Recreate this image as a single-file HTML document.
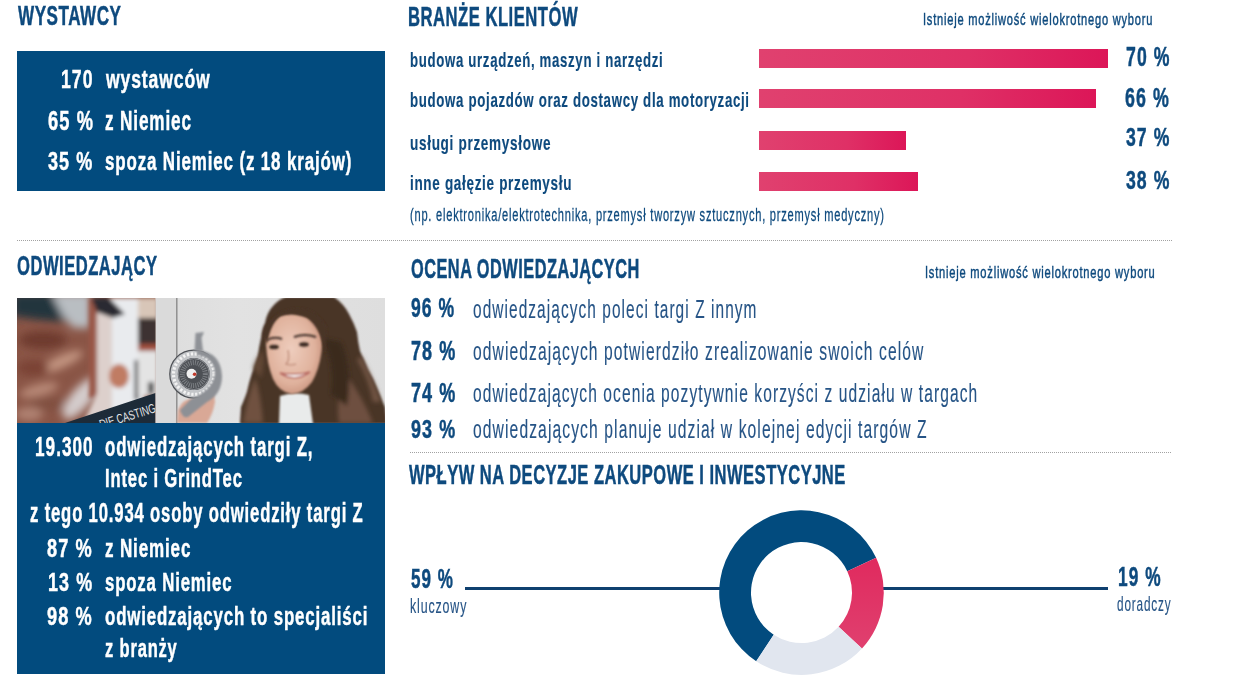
<!DOCTYPE html>
<html><head><meta charset="utf-8">
<style>
html,body{margin:0;padding:0;background:#fff;}
body{width:1240px;height:698px;position:relative;overflow:hidden;font-family:"Liberation Sans",sans-serif;}
.t{position:absolute;white-space:nowrap;transform-origin:0 0;}
.box{position:absolute;background:#024b7e;}
.dots{position:absolute;height:1px;background-image:linear-gradient(to right,#a2a2a2 50%,transparent 50%);background-size:2px 1px;}
.bar{position:absolute;background:linear-gradient(to right,#e0416f,#df3066 60%,#dc1658);}
.hl{position:absolute;height:2.5px;background:#0f406f;}
</style></head><body>
<div class="box" style="left:17px;top:51px;width:368px;height:140px"></div>
<div class="box" style="left:17px;top:423px;width:368px;height:251px"></div>
<div class="dots" style="left:17px;top:240px;width:1156px"></div>
<div class="dots" style="left:410px;top:452px;width:762px"></div>
<div class="bar" style="left:759px;top:49px;width:349px;height:18.5px"></div>
<div class="bar" style="left:759px;top:89px;width:337px;height:18.5px"></div>
<div class="bar" style="left:759px;top:130.5px;width:147px;height:19px"></div>
<div class="bar" style="left:759px;top:172px;width:159px;height:19px"></div>
<div class="hl" style="left:465px;top:587px;width:260px"></div>
<div class="hl" style="left:878px;top:587px;width:230px"></div>
<svg style="position:absolute;left:0;top:0" width="1240" height="698" viewBox="0 0 1240 698">
<defs><linearGradient id="pk" x1="0" y1="0" x2="0" y2="1"><stop offset="0" stop-color="#e02a5e"/><stop offset="1" stop-color="#e0406f"/></linearGradient></defs>
<path fill="#024b7e" d="M756.20 661.31A82.3 82.3 0 1 1 876.09 557.82L847.27 571.26A50.5 50.5 0 1 0 773.70 634.76Z"/>
<path fill="url(#pk)" d="M876.09 557.82A82.3 82.3 0 0 1 861.98 648.41L838.61 626.85A50.5 50.5 0 0 0 847.27 571.26Z"/>
<path fill="#e1e6ef" d="M861.98 648.41A82.3 82.3 0 0 1 756.20 661.31L773.70 634.76A50.5 50.5 0 0 0 838.61 626.85Z"/>
</svg>
<!--PHOTO-->
<svg style="position:absolute;left:17px;top:298px" width="368" height="125" viewBox="0 0 368 125">
<defs>
<clipPath id="pc"><rect x="0" y="0" width="368" height="125"/></clipPath>
<clipPath id="pp"><rect x="0" y="0" width="138.5" height="125"/></clipPath>
<filter id="b1" x="-20%" y="-20%" width="140%" height="140%"><feGaussianBlur stdDeviation="1"/></filter>
<filter id="b2" x="-20%" y="-20%" width="140%" height="140%"><feGaussianBlur stdDeviation="2"/></filter>
<filter id="b3" x="-30%" y="-30%" width="160%" height="160%"><feGaussianBlur stdDeviation="4"/></filter>
<linearGradient id="wall" x1="0" y1="0" x2="1" y2="0"><stop offset="0.35" stop-color="#dcdcdc"/><stop offset="0.6" stop-color="#e2e2e2"/><stop offset="1" stop-color="#dedede"/></linearGradient>
<radialGradient id="skin" cx="0.45" cy="0.45" r="0.6"><stop offset="0" stop-color="#eecdbd"/><stop offset="0.7" stop-color="#e0b29d"/><stop offset="1" stop-color="#c8927c"/></radialGradient>
</defs>
<g clip-path="url(#pc)">
<rect x="0" y="0" width="368" height="125" fill="url(#wall)"/>
<rect x="138.5" y="0" width="21" height="125" fill="#dadada"/>
<rect x="159.1" y="0" width="1.4" height="125" fill="#8a8a8a"/>
<!-- poster -->
<g clip-path="url(#pp)">
<rect x="0" y="0" width="138.5" height="125" fill="#8a5546"/>
<g filter="url(#b3)">
<path d="M-5 -5 L50 -5 L52 24 L24 22 L-5 18 Z" fill="#23343e"/>
<path d="M34 -5 L74 -5 L74 30 L56 30 L46 18 Z" fill="#b9bec2"/>
<ellipse cx="26" cy="42" rx="24" ry="9" fill="#6e3a2e"/>
<ellipse cx="44" cy="64" rx="24" ry="6" fill="#c49682" transform="rotate(-25 44 64)"/>
<ellipse cx="16" cy="70" rx="16" ry="8" fill="#7a4334"/>
<ellipse cx="22" cy="92" rx="20" ry="6" fill="#b98a78" transform="rotate(-15 22 92)"/>
<ellipse cx="30" cy="106" rx="18" ry="6" fill="#80503f"/>
<ellipse cx="12" cy="116" rx="14" ry="7" fill="#b08272"/>
<ellipse cx="64" cy="100" rx="26" ry="10" fill="#d4cccc" transform="rotate(-50 64 100)"/>
</g>
<g filter="url(#b2)">
<rect x="72" y="0" width="8" height="100" fill="#9a5646"/>
<path d="M80 0 L96 0 L96 125 L66 125 L80 95 Z" fill="#ddd0cc"/>
<rect x="95" y="0" width="32" height="125" fill="#e9ebee"/>
<ellipse cx="102" cy="78" rx="10" ry="12" fill="#c07c64"/>
<rect x="117.5" y="62" width="4" height="40" fill="#505052"/>
<rect x="121" y="0" width="20" height="20" fill="#d8c6b8"/>
<rect x="121" y="20" width="20" height="28" fill="#3e3331"/>
<rect x="121" y="46" width="20" height="7" fill="#a0503e"/>
<rect x="121" y="53" width="20" height="45" fill="#e4e4e4"/>
<rect x="131" y="84" width="6" height="12" fill="#4a4a4a"/>
<path d="M74 0 L92 0 L108 16 L96 20 L80 14 Z" fill="#2c2a30"/>
</g>
<path d="M48 125 L138.5 95 L138.5 125 Z" fill="#1d2b38"/>
<g transform="translate(84 131) rotate(-17) scale(0.7 1)"><text x="0" y="0" font-family="Liberation Sans" font-size="13" fill="#e4e6e8">DIE CASTING</text></g>
</g>
<!-- turbine -->
<path d="M160 125 L161 112 Q166 100 176 101 L189 93 Q198 92 198 104 Q196 116 190 125 Z" fill="#d9a896" filter="url(#b1)"/>
<circle cx="176.8" cy="76.1" r="24" fill="#c4c6c9" stroke="#505358" stroke-width="1.3"/>
<circle cx="176.8" cy="76.1" r="20.3" fill="none" stroke="#f2f2f2" stroke-width="3.2" stroke-dasharray="2.3 1.7"/>
<circle cx="176.8" cy="76.1" r="16" fill="#4d5055"/>
<circle cx="176.8" cy="76.1" r="11.5" fill="none" stroke="#7d8085" stroke-width="5" stroke-dasharray="1 1.2"/>
<circle cx="176.8" cy="76.1" r="15.5" fill="none" stroke="#8a8d92" stroke-width="1"/>
<circle cx="174.5" cy="75.8" r="5" fill="#f0f0f0"/>
<circle cx="177.6" cy="76.3" r="1.8" fill="#c0392b"/>
<path d="M180 52 Q204 54 205 78 Q205 96 190 104 L171 119 Q166 121 163 112 L174 101 Q196 92 198 76 Q198 60 180 57 Z" fill="#8d9095" filter="url(#b1)"/>
<path d="M177.5 53 L178.5 35 L187 34 L184.5 40 L186 53 Z" fill="#8f9297" filter="url(#b1)"/>
<!-- woman -->
<path d="M223 126 L224 109 Q228 100 230 94 Q232 84 235 75 Q239 66 241 58 Q242 48 244 40 Q245 30 248 25 Q250 14 256 8 Q262 1 269 -1 L317 -1 Q327 6 332 16 Q337 25 340 34 Q341 44 343 53 Q347 62 351 72 Q356 80 360 90 Q364 100 368 109 L370 126 Z" fill="#4a3427" filter="url(#b1)"/>
<g filter="url(#b2)">
<path d="M226 125 Q230 100 238 80 Q244 96 246 125 Z" fill="#6f5140"/>
<path d="M236 70 Q240 58 246 52 Q248 66 244 80 Z" fill="#624636"/>
<path d="M322 125 Q318 100 330 78 Q346 100 356 125 Z" fill="#6e5040"/>
<path d="M340 62 Q352 82 356 104 L364 104 Q356 80 344 58 Z" fill="#705242"/>
<path d="M304 40 Q318 62 314 96 L330 108 Q336 70 324 44 Z" fill="#3a291f"/>
</g>
<path d="M262 126 L263 98 Q277 93 292 97 L296 126 Z" fill="#e9ebeb" filter="url(#b1)"/>
<path d="M274.5 15 Q296 16 303 32 Q306 44 304.5 54 Q302 72 295 84 Q286 96 274.5 96 Q262 94 256 81 Q250 66 249 46 Q250 26 262 18 Q268 15 274.5 15 Z" fill="url(#skin)" filter="url(#b1)"/>
<path d="M246 36 Q254 12 280 10 Q300 10 310 30 L308 56 Q304 30 290 20 Q276 14 264 18 Q254 24 250 46 Z" fill="#4a3427" filter="url(#b1)"/>
<g filter="url(#b1)">
<path d="M250 42 Q257 38 265 41" stroke="#3f2d25" stroke-width="2" fill="none"/>
<path d="M277 39 Q288 35 299 39" stroke="#3f2d25" stroke-width="2" fill="none"/>
<ellipse cx="257" cy="49" rx="4.8" ry="2.2" fill="#3a2a24"/>
<ellipse cx="287" cy="46.5" rx="4.8" ry="2.2" fill="#3a2a24"/>
<path d="M271 52 Q273 63 269 66 Q273 68 279 66" stroke="#b88470" stroke-width="1.2" fill="none"/>
<path d="M263 75 Q278 85 293 74 Q279 78 263 75 Z" fill="#fff" stroke="#b86a62" stroke-width="1.6"/>
</g>
</g>
</svg>

<div class="t" style="left:17.55px;top:1.34px;font-size:28.27px;line-height:28.27px;font-weight:bold;color:#0e4a7e;letter-spacing:0.848px;-webkit-text-stroke:0.5px #0e4a7e;transform:scaleX(0.6049)">WYSTAWCY</div>
<div class="t" style="left:408.05px;top:2.62px;font-size:27.69px;line-height:27.69px;font-weight:bold;color:#0e4a7e;letter-spacing:0.831px;-webkit-text-stroke:0.5px #0e4a7e;transform:scaleX(0.6007)">BRANŻE KLIENTÓW</div>
<div class="t" style="left:17.19px;top:252.02px;font-size:27.83px;line-height:27.83px;font-weight:bold;color:#0e4a7e;letter-spacing:0.835px;-webkit-text-stroke:0.5px #0e4a7e;transform:scaleX(0.5962)">ODWIEDZAJĄCY</div>
<div class="t" style="left:411.20px;top:255.11px;font-size:27.40px;line-height:27.40px;font-weight:bold;color:#0e4a7e;letter-spacing:0.822px;-webkit-text-stroke:0.5px #0e4a7e;transform:scaleX(0.5963)">OCENA ODWIEDZAJĄCYCH</div>
<div class="t" style="left:408.55px;top:461.26px;font-size:27.83px;line-height:27.83px;font-weight:bold;color:#0e4a7e;letter-spacing:0.835px;-webkit-text-stroke:0.5px #0e4a7e;transform:scaleX(0.5936)">WPŁYW NA DECYZJE ZAKUPOWE I INWESTYCYJNE</div>
<div class="t" style="left:60.91px;top:65.75px;font-size:26.67px;line-height:26.67px;font-weight:bold;color:#ffffff;letter-spacing:1.600px;-webkit-text-stroke:0.5px #ffffff;transform:scaleX(0.6596)">170</div>
<div class="t" style="left:105.54px;top:65.75px;font-size:26.67px;line-height:26.67px;font-weight:bold;color:#ffffff;letter-spacing:1.334px;-webkit-text-stroke:0.5px #ffffff;transform:scaleX(0.6591)">wystawców</div>
<div class="t" style="left:47.62px;top:106.61px;font-size:27.40px;line-height:27.40px;font-weight:bold;color:#ffffff;letter-spacing:1.644px;-webkit-text-stroke:0.5px #ffffff;transform:scaleX(0.6673)">65 %</div>
<div class="t" style="left:104.67px;top:106.61px;font-size:27.40px;line-height:27.40px;font-weight:bold;color:#ffffff;letter-spacing:1.370px;-webkit-text-stroke:0.5px #ffffff;transform:scaleX(0.6263)">z Niemiec</div>
<div class="t" style="left:47.81px;top:148.24px;font-size:26.67px;line-height:26.67px;font-weight:bold;color:#ffffff;letter-spacing:1.600px;-webkit-text-stroke:0.5px #ffffff;transform:scaleX(0.6764)">35 %</div>
<div class="t" style="left:104.85px;top:148.25px;font-size:26.67px;line-height:26.67px;font-weight:bold;color:#ffffff;letter-spacing:1.334px;-webkit-text-stroke:0.5px #ffffff;transform:scaleX(0.6362)">spoza Niemiec (z 18 krajów)</div>
<div class="t" style="left:409.76px;top:49.78px;font-size:20.05px;line-height:20.05px;font-weight:bold;color:#0e4a7e;letter-spacing:1.002px;-webkit-text-stroke:0.15px #0e4a7e;transform:scaleX(0.6606)">budowa urządzeń, maszyn i narzędzi</div>
<div class="t" style="left:409.75px;top:91.48px;font-size:19.91px;line-height:19.91px;font-weight:bold;color:#0e4a7e;letter-spacing:0.995px;-webkit-text-stroke:0.15px #0e4a7e;transform:scaleX(0.6670)">budowa pojazdów oraz dostawcy dla motoryzacji</div>
<div class="t" style="left:410.24px;top:132.82px;font-size:20.05px;line-height:20.05px;font-weight:bold;color:#0e4a7e;letter-spacing:1.002px;-webkit-text-stroke:0.15px #0e4a7e;transform:scaleX(0.6774)">usługi przemysłowe</div>
<div class="t" style="left:410.24px;top:173.06px;font-size:20.05px;line-height:20.05px;font-weight:bold;color:#0e4a7e;letter-spacing:1.002px;-webkit-text-stroke:0.15px #0e4a7e;transform:scaleX(0.6748)">inne gałęzie przemysłu</div>
<div class="t" style="left:410.02px;top:205.81px;font-size:18.42px;line-height:18.42px;font-weight:normal;color:#0e4a7e;letter-spacing:1.290px;-webkit-text-stroke:0.3px #0e4a7e;transform:scaleX(0.6019)">(np. elektronika/elektrotechnika, przemysł tworzyw sztucznych, przemysł medyczny)</div>
<div class="t" style="left:1125.76px;top:43.34px;font-size:27.11px;line-height:27.11px;font-weight:bold;color:#0e4a7e;letter-spacing:1.626px;-webkit-text-stroke:0.5px #0e4a7e;transform:scaleX(0.6513)">70 %</div>
<div class="t" style="left:1125.43px;top:84.14px;font-size:27.69px;line-height:27.69px;font-weight:bold;color:#0e4a7e;letter-spacing:1.661px;-webkit-text-stroke:0.5px #0e4a7e;transform:scaleX(0.6440)">66 %</div>
<div class="t" style="left:1125.81px;top:124.45px;font-size:26.38px;line-height:26.38px;font-weight:bold;color:#0e4a7e;letter-spacing:1.583px;-webkit-text-stroke:0.5px #0e4a7e;transform:scaleX(0.6683)">37 %</div>
<div class="t" style="left:1125.81px;top:167.09px;font-size:26.53px;line-height:26.53px;font-weight:bold;color:#0e4a7e;letter-spacing:1.592px;-webkit-text-stroke:0.5px #0e4a7e;transform:scaleX(0.6646)">38 %</div>
<div class="t" style="left:922.85px;top:12.34px;font-size:16.63px;line-height:16.63px;font-weight:normal;color:#0e4a7e;letter-spacing:1.164px;-webkit-text-stroke:0.45px #0e4a7e;transform:scaleX(0.6682)">Istnieje możliwość wielokrotnego wyboru</div>
<div class="t" style="left:925.45px;top:265.20px;font-size:16.77px;line-height:16.77px;font-weight:normal;color:#0e4a7e;letter-spacing:1.174px;-webkit-text-stroke:0.45px #0e4a7e;transform:scaleX(0.6631)">Istnieje możliwość wielokrotnego wyboru</div>
<div class="t" style="left:34.53px;top:432.87px;font-size:27.40px;line-height:27.40px;font-weight:bold;color:#ffffff;letter-spacing:1.644px;-webkit-text-stroke:0.5px #ffffff;transform:scaleX(0.6263)">19.300</div>
<div class="t" style="left:105.05px;top:432.87px;font-size:27.40px;line-height:27.40px;font-weight:bold;color:#ffffff;letter-spacing:1.370px;-webkit-text-stroke:0.5px #ffffff;transform:scaleX(0.6147)">odwiedzających targi Z,</div>
<div class="t" style="left:105.46px;top:466.48px;font-size:25.80px;line-height:25.80px;font-weight:bold;color:#ffffff;letter-spacing:1.290px;-webkit-text-stroke:0.5px #ffffff;transform:scaleX(0.6446)">Intec i GrindTec</div>
<div class="t" style="left:29.78px;top:499.37px;font-size:27.69px;line-height:27.69px;font-weight:bold;color:#ffffff;letter-spacing:1.384px;-webkit-text-stroke:0.5px #ffffff;transform:scaleX(0.6020)">z tego 10.934 osoby odwiedziły targi Z</div>
<div class="t" style="left:47.43px;top:534.58px;font-size:26.24px;line-height:26.24px;font-weight:bold;color:#ffffff;letter-spacing:1.574px;-webkit-text-stroke:0.5px #ffffff;transform:scaleX(0.6935)">87 %</div>
<div class="t" style="left:105.28px;top:534.58px;font-size:26.24px;line-height:26.24px;font-weight:bold;color:#ffffff;letter-spacing:1.312px;-webkit-text-stroke:0.5px #ffffff;transform:scaleX(0.6493)">z Niemiec</div>
<div class="t" style="left:48.10px;top:568.59px;font-size:26.24px;line-height:26.24px;font-weight:bold;color:#ffffff;letter-spacing:1.574px;-webkit-text-stroke:0.5px #ffffff;transform:scaleX(0.6831)">13 %</div>
<div class="t" style="left:105.46px;top:568.59px;font-size:26.24px;line-height:26.24px;font-weight:bold;color:#ffffff;letter-spacing:1.312px;-webkit-text-stroke:0.5px #ffffff;transform:scaleX(0.6390)">spoza Niemiec</div>
<div class="t" style="left:47.43px;top:602.84px;font-size:26.24px;line-height:26.24px;font-weight:bold;color:#ffffff;letter-spacing:1.574px;-webkit-text-stroke:0.5px #ffffff;transform:scaleX(0.6935)">98 %</div>
<div class="t" style="left:105.46px;top:602.84px;font-size:26.24px;line-height:26.24px;font-weight:bold;color:#ffffff;letter-spacing:1.312px;-webkit-text-stroke:0.5px #ffffff;transform:scaleX(0.6423)">odwiedzających to specjaliści</div>
<div class="t" style="left:105.30px;top:635.10px;font-size:26.24px;line-height:26.24px;font-weight:bold;color:#ffffff;letter-spacing:1.312px;-webkit-text-stroke:0.5px #ffffff;transform:scaleX(0.6288)">z branży</div>
<div class="t" style="left:411.33px;top:294.09px;font-size:27.40px;line-height:27.40px;font-weight:bold;color:#0e4a7e;letter-spacing:1.644px;-webkit-text-stroke:0.5px #0e4a7e;transform:scaleX(0.6418)">96 %</div>
<div class="t" style="left:473.03px;top:295.72px;font-size:26.26px;line-height:26.26px;font-weight:normal;color:#265486;letter-spacing:1.838px;-webkit-text-stroke:0.15px #265486;transform:scaleX(0.5872)">odwiedzających poleci targi Z innym</div>
<div class="t" style="left:411.15px;top:336.60px;font-size:27.11px;line-height:27.11px;font-weight:bold;color:#0e4a7e;letter-spacing:1.626px;-webkit-text-stroke:0.5px #0e4a7e;transform:scaleX(0.6650)">78 %</div>
<div class="t" style="left:473.32px;top:338.22px;font-size:25.98px;line-height:25.98px;font-weight:normal;color:#265486;letter-spacing:1.819px;-webkit-text-stroke:0.15px #265486;transform:scaleX(0.6014)">odwiedzających potwierdziło zrealizowanie swoich celów</div>
<div class="t" style="left:411.15px;top:378.62px;font-size:27.11px;line-height:27.11px;font-weight:bold;color:#0e4a7e;letter-spacing:1.626px;-webkit-text-stroke:0.5px #0e4a7e;transform:scaleX(0.6650)">74 %</div>
<div class="t" style="left:473.32px;top:380.24px;font-size:25.98px;line-height:25.98px;font-weight:normal;color:#265486;letter-spacing:1.819px;-webkit-text-stroke:0.15px #265486;transform:scaleX(0.5985)">odwiedzających ocenia pozytywnie korzyści z udziału w targach</div>
<div class="t" style="left:411.33px;top:415.87px;font-size:26.53px;line-height:26.53px;font-weight:bold;color:#0e4a7e;letter-spacing:1.592px;-webkit-text-stroke:0.5px #0e4a7e;transform:scaleX(0.6767)">93 %</div>
<div class="t" style="left:473.32px;top:417.47px;font-size:25.43px;line-height:25.43px;font-weight:normal;color:#265486;letter-spacing:1.780px;-webkit-text-stroke:0.15px #265486;transform:scaleX(0.6157)">odwiedzających planuje udział w kolejnej edycji targów Z</div>
<div class="t" style="left:410.84px;top:564.85px;font-size:27.40px;line-height:27.40px;font-weight:bold;color:#0e4a7e;letter-spacing:1.644px;-webkit-text-stroke:0.5px #0e4a7e;transform:scaleX(0.6222)">59 %</div>
<div class="t" style="left:410.30px;top:597.15px;font-size:19.91px;line-height:19.91px;font-weight:normal;color:#265486;letter-spacing:1.394px;-webkit-text-stroke:0.15px #265486;transform:scaleX(0.6226)">kluczowy</div>
<div class="t" style="left:1118.22px;top:563.52px;font-size:26.96px;line-height:26.96px;font-weight:bold;color:#0e4a7e;letter-spacing:1.618px;-webkit-text-stroke:0.5px #0e4a7e;transform:scaleX(0.6417)">19 %</div>
<div class="t" style="left:1117.17px;top:594.27px;font-size:20.60px;line-height:20.60px;font-weight:normal;color:#265486;letter-spacing:1.442px;-webkit-text-stroke:0.15px #265486;transform:scaleX(0.5721)">doradczy</div>
</body></html>
